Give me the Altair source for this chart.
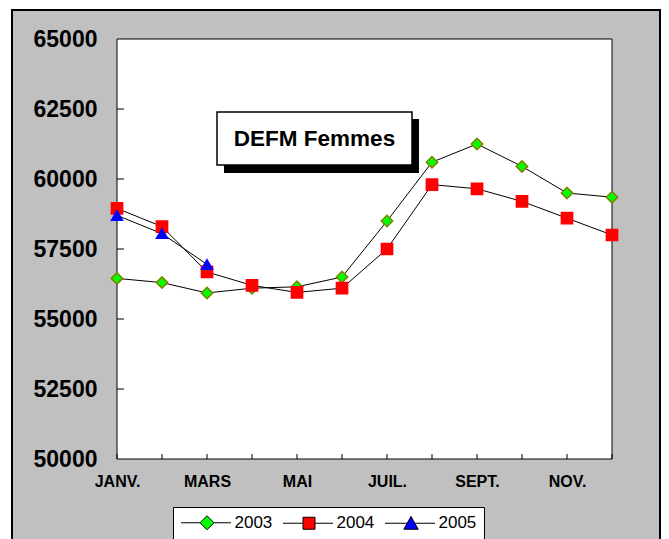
import altair as alt
import pandas as pd

# ---- data ----
months = ["JANV.", "FÉVR.", "MARS", "AVRIL", "MAI", "JUIN",
          "JUIL.", "AOÛT", "SEPT.", "OCT.", "NOV.", "DÉC."]
shown_months = ["JANV.", "MARS", "MAI", "JUIL.", "SEPT.", "NOV."]
years = ["2003", "2004", "2005"]
v2003 = [56450, 56300, 55930, 56100, 56150, 56500, 58500, 60600, 61250, 60450, 59500, 59350]
v2004 = [58950, 58300, 56680, 56200, 55950, 56100, 57500, 59800, 59650, 59200, 58600, 58000]
v2005 = [58700, 58050, 56950]
y_ticks = [50000, 52500, 55000, 57500, 60000, 62500, 65000]
inner_y_ticks = [52500, 55000, 57500, 60000, 62500]
title_text = "DEFM Femmes"

# ---- styles ----
fills = ["#00ff00", "#ff0000", "#0000ff"]
strokes = ["#808000", "#ff0000", "#0000ff"]
shapes = ["diamond", "square", "triangle-up"]
sizes = [130, 121, 230]
legend_paths = [
    "M-3.25,0H-0.875M0.875,0H3M0,-0.875L0.875,0L0,0.875L-0.875,0Z",
    "M-3.25,0H-0.75M0.75,0H3M-0.75,-0.75H0.75V0.75H-0.75Z",
    "M-3.25,0H-0.48M0.48,0H3M0,-0.85L0.9,0.75H-0.9Z",
]

rows = []
for yr, vals in zip(years, [v2003, v2004, v2005]):
    for i, (m, v) in enumerate(zip(months, vals)):
        rows.append({"mois": m, "valeur": v, "annee": yr, "idx": i})
df = pd.DataFrame(rows)
df_months = pd.DataFrame({"mois": months})
df_yt = pd.DataFrame({"valeur": inner_y_ticks})
one = pd.DataFrame({"k": [0]})

W, H = 495, 420

x_axis = alt.Axis(values=shown_months, labelAngle=0, ticks=False, domain=False, grid=False,
                  labelFont="Liberation Sans", labelFontSize=16, labelFontWeight="bold",
                  labelColor="black", labelPadding=14, title=None, zindex=1,
                  labelFlush=False, labelOverlap=False)
y_axis = alt.Axis(values=y_ticks, format="d", ticks=False, domain=False, grid=False,
                  labelFont="Liberation Sans", labelFontSize=23, labelFontWeight="bold",
                  labelColor="black", labelPadding=20, title=None, zindex=1,
                  labelFlush=False, labelOverlap=False)
x_enc = alt.X("mois:N", scale=alt.Scale(type="point", domain=months, padding=0), axis=x_axis)
y_enc = alt.Y("valeur:Q", scale=alt.Scale(domain=[50000, 65000], zero=False, nice=False), axis=y_axis)

frame = alt.Chart(one).mark_rect(fill="#c0c0c0", stroke="black", strokeWidth=2).encode(
    x=alt.value(-105), x2=alt.value(543), y=alt.value(-29), y2=alt.value(600))
plotbox = alt.Chart(one).mark_rect(fill="white", stroke="black", strokeWidth=1).encode(
    x=alt.value(0), x2=alt.value(W), y=alt.value(0), y2=alt.value(H))
xticks = alt.Chart(df_months).mark_rule(color="black", strokeWidth=1).encode(
    x=x_enc, y=alt.value(H), y2=alt.value(H - 5))
yticks = alt.Chart(df_yt).mark_rule(color="black", strokeWidth=1).encode(
    y=y_enc, x=alt.value(0), x2=alt.value(7))
shadow = alt.Chart(one).mark_rect(fill="black").encode(
    x=alt.value(107), x2=alt.value(302), y=alt.value(80), y2=alt.value(134))
tbox = alt.Chart(one).mark_rect(fill="white", stroke="black", strokeWidth=1.5).encode(
    x=alt.value(100), x2=alt.value(295), y=alt.value(73), y2=alt.value(126))
ttext = alt.Chart(one).mark_text(text=title_text, font="Liberation Sans", fontSize=22.5,
                                 fontWeight="bold", color="black", align="center",
                                 baseline="middle").encode(x=alt.value(197.5), y=alt.value(100))

lines = alt.Chart(df).mark_line(color="black", strokeWidth=1).encode(
    x=x_enc, y=y_enc, detail="annee:N", order=alt.Order("idx:Q"))
points = alt.Chart(df).mark_point(filled=True, opacity=1, strokeWidth=1.5).encode(
    x=x_enc, y=y_enc,
    shape=alt.Shape("annee:N", scale=alt.Scale(domain=years, range=shapes), legend=None),
    fill=alt.Fill("annee:N", scale=alt.Scale(domain=years, range=fills), legend=None),
    stroke=alt.Stroke("annee:N", scale=alt.Scale(domain=years, range=strokes), legend=None),
    size=alt.Size("annee:N", scale=alt.Scale(domain=years, range=sizes), legend=None),
)

leg = alt.Legend(orient="none", legendX=56, legendY=468, direction="horizontal", title=None,
                 padding=7, strokeColor="black", fillColor="white", cornerRadius=0,
                 symbolSize=256, symbolOffset=18.5, labelOffset=19, columnPadding=8,
                 symbolStrokeColor="black", symbolStrokeWidth=1,
                 labelFont="Liberation Sans", labelFontSize=17, labelColor="black",
                 zindex=1)
legend_layer = alt.Chart(df).mark_point(filled=True, opacity=1, stroke="black", strokeWidth=1).encode(
    color=alt.Color("annee:N", scale=alt.Scale(domain=years, range=fills), legend=leg),
    shape=alt.Shape("annee:N", scale=alt.Scale(domain=years, range=legend_paths), legend=leg),
).transform_filter("false")

chart = alt.layer(frame, plotbox, xticks, yticks, shadow, tbox, ttext, lines, points, legend_layer
                  ).resolve_scale(shape="independent", color="independent").properties(
    width=W, height=H,
    padding={"left": 109, "top": 31, "right": 49, "bottom": 80},
    autosize=alt.AutoSizeParams(type="none"),
    background="white",
).configure_view(stroke=None)

chart.save("out.html", embed_options={"renderer": "svg", "actions": False})
